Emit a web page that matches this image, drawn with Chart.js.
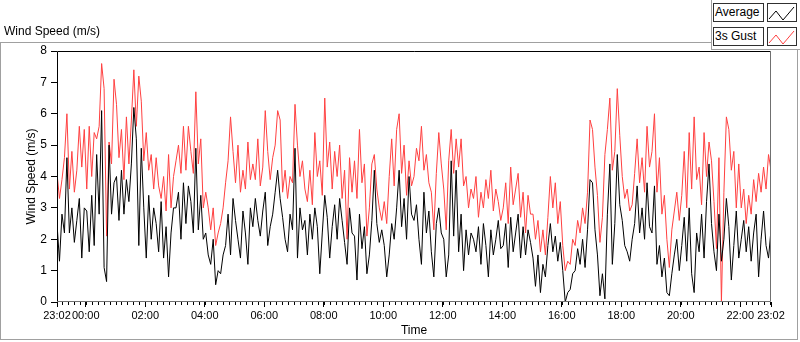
<!DOCTYPE html>
<html>
<head>
<meta charset="utf-8">
<script src="https://cdn.jsdelivr.net/npm/chart.js@4.4.1/dist/chart.umd.min.js"></script>
<style>
  body { margin: 0; background: #fff; font-family: "Liberation Sans", Arial, sans-serif; font-size: 12px; }
  #wrap { position: relative; width: 800px; height: 342px; overflow: hidden; }
  canvas { position: absolute; left: 0; top: 0; }
  .ln { position: absolute; background: #a0a0a0; }
  .title { position: absolute; left: 4px; top: 24px; color: #000; }
  .lgText { position: absolute; left: 713px; width: 48px; height: 17px; line-height: 17px; border: 1px solid #303030; background: #fff; padding-left: 1px; color: #000; }
  .lgIcon { position: absolute; left: 767px; width: 28px; height: 17px; border: 1px solid #303030; background: #fff; }
</style>
</head>
<body>
<div id="wrap">
  <canvas id="myChart" width="800" height="342"></canvas>
  <div class="title">Wind Speed (m/s)</div>
  <!-- frame lines -->
  <div class="ln" style="left:0;top:42px;width:712px;height:1px"></div>
  <div class="ln" style="left:0;top:42px;width:1px;height:298px"></div>
  <div class="ln" style="left:0;top:339px;width:798px;height:1px"></div>
  <div class="ln" style="left:797px;top:49px;width:1px;height:291px"></div>
  <div class="ln" style="left:711px;top:0;width:1px;height:50px"></div>
  <div class="ln" style="left:711px;top:49px;width:89px;height:1px"></div>
  <!-- legend -->
  <div class="lgText" style="top:3px">Average</div>
  <div class="lgIcon" style="top:3px"><svg width="28" height="17"><polyline points="1,15 8,7 15,16 26,3" fill="none" stroke="#000" stroke-width="1"/></svg></div>
  <div class="lgText" style="top:27px">3s Gust</div>
  <div class="lgIcon" style="top:27px"><svg width="28" height="17"><polyline points="1,15 8,7 15,16 26,3" fill="none" stroke="#ff4040" stroke-width="1"/></svg></div>
</div>
<script>
// 5 minute samples starting 23:02, one row per hour
const average = [
  2.5, 1.3, 2.8, 2.2, 4.6, 2.2, 3.0, 1.9, 2.6, 3.3, 1.4, 3.0,
  2.9, 1.6, 3.4, 1.8, 4.7, 2.8, 6.1, 1.1, 0.65, 5.0, 2.8, 3.8,
  4.0, 2.6, 4.2, 2.8, 3.9, 3.2, 4.4, 6.2, 5.2, 1.8, 4.9, 3.0,
  1.4, 3.4, 2.0, 3.0, 2.5, 1.6, 3.2, 1.4, 2.4, 0.8, 2.2, 3.0,
  3.0, 3.5, 2.0, 3.8, 2.5, 3.7, 3.2, 2.2, 4.9, 2.3, 3.4, 2.0,
  2.2, 1.5, 1.2, 2.0, 0.55, 1.0, 0.9, 1.5, 1.8, 2.8, 1.5, 3.3,
  2.6, 2.0, 1.4, 2.9, 2.2, 1.2, 3.0, 2.4, 3.3, 2.6, 2.1, 2.9,
  3.5, 1.8, 2.4, 2.8, 3.5, 4.2, 3.3, 2.7, 2.0, 1.6, 2.8, 2.3,
  4.9, 1.4, 3.0, 2.3, 2.6, 1.5, 2.8, 2.0, 3.0, 2.4, 0.9, 2.2,
  3.4, 2.7, 1.4, 2.4, 3.1, 2.0, 3.3, 2.6, 1.9, 1.2, 3.0, 2.2,
  2.1, 0.7, 2.8, 1.7, 2.4, 0.9, 1.5, 2.6, 4.2, 2.5, 1.9, 2.3,
  1.8, 0.8, 1.5, 2.5, 2.0, 3.0, 4.2, 2.4, 3.3, 2.0, 4.0, 2.8,
  2.6, 3.1, 2.0, 1.2, 3.5, 2.2, 2.9, 1.6, 0.8, 2.5, 3.0, 2.2,
  2.0, 0.8, 1.5, 4.5, 2.1, 4.2, 1.6, 2.8, 1.0, 2.3, 1.5, 2.2,
  2.0, 1.6, 2.4, 1.2, 2.5, 1.8, 0.8, 2.3, 1.5, 2.0, 2.6, 1.7,
  1.8, 2.5, 1.1, 2.7, 1.6, 2.2, 2.8, 1.4, 2.4, 1.5, 2.3, 1.9,
  1.4, 0.5, 1.5, 0.3, 1.2, 0.8, 1.8, 2.5, 1.6, 2.1, 1.3, 1.9,
  1.0, 0.0, 0.3, 0.4, 0.9, 1.0, 1.7, 1.2, 2.0, 1.1, 2.3, 3.9,
  3.8, 2.3, 1.5, 0.2, 0.9, 0.1, 2.8, 4.4, 1.2, 2.5, 4.7, 3.1,
  2.6, 1.8, 1.6, 1.3, 2.0, 2.5, 3.7, 2.2, 3.0, 2.0, 3.8, 2.4,
  2.2, 3.7, 1.2, 1.8, 0.8, 1.4, 0.3, 0.2, 0.9, 1.5, 2.0, 1.0,
  1.8, 2.7, 1.3, 3.0, 0.9, 0.3, 2.2, 1.6, 2.8, 1.4, 3.2, 4.4,
  2.5, 1.6, 1.0, 2.8, 1.3, 2.0, 3.3, 2.4, 0.7, 1.8, 2.9, 1.4,
  2.0, 2.6, 1.6, 2.4, 1.3, 2.2, 2.8, 0.8, 2.0, 2.9, 1.8, 1.4,
  2.3
];

const gust = [
  4.1, 3.3, 3.9, 4.6, 6.0, 3.6, 4.8, 3.5, 4.2, 5.6, 4.3, 5.5,
  3.6, 5.6, 4.0, 5.4, 5.2, 5.6, 7.6, 6.8, 2.1, 5.1, 4.4, 7.1,
  6.3, 4.6, 5.5, 3.9, 5.9, 4.4, 5.8, 7.4, 5.6, 7.2, 6.4, 4.5,
  5.4, 4.2, 4.7, 3.6, 4.6, 3.7, 3.3, 4.0, 2.9, 4.7, 3.0, 4.0,
  4.5, 5.0, 4.1, 5.6, 4.2, 5.6, 4.8, 4.1, 6.7, 4.4, 5.2, 3.0,
  3.5, 3.0, 2.3, 3.0, 1.8, 2.2, 2.5, 3.0, 3.8, 4.5, 5.9, 4.8,
  3.8, 5.0, 3.5, 4.2, 3.6, 5.1, 3.9, 4.4, 3.9, 5.2, 3.7, 4.3,
  6.1, 4.8, 3.9, 4.6, 5.0, 6.1, 5.8, 3.5, 4.2, 3.3, 4.0, 3.8,
  6.3, 5.0, 4.0, 4.5, 3.6, 3.2, 4.2, 3.1, 5.4, 4.0, 4.5, 3.4,
  6.5, 4.3, 5.1, 3.6, 4.8, 4.0, 5.0, 3.3, 4.2, 2.0, 4.6, 3.5,
  4.5, 3.3, 5.5, 3.8, 4.4, 2.1, 3.0, 4.4, 4.7, 3.6, 3.0, 2.6,
  3.2, 2.5, 4.0, 5.2, 3.7, 5.5, 6.0, 4.1, 5.0, 3.4, 4.5, 3.7,
  4.0, 4.9, 4.5, 5.6, 4.2, 4.7, 3.8, 3.5, 2.3, 4.1, 5.4, 4.4,
  3.6, 2.3, 4.5, 5.5, 4.1, 5.2, 4.3, 5.2, 3.7, 4.0, 3.0, 3.6,
  3.3, 4.0, 2.7, 3.5, 3.0, 3.9, 3.3, 4.2, 2.9, 3.6, 3.2, 2.6,
  3.0, 3.8, 2.5, 4.3, 3.1, 3.6, 4.1, 2.7, 3.5, 2.2, 3.4, 2.8,
  2.8, 2.0, 2.6, 1.6, 2.3, 1.5, 2.7, 4.0, 3.0, 3.8, 2.5, 3.2,
  1.8, 1.0, 1.3, 1.2, 2.0, 1.8, 2.6, 2.2, 3.0, 2.5, 3.5, 5.8,
  5.5, 4.3, 3.4, 1.9, 2.7, 4.7, 5.5, 6.5, 4.2, 4.8, 6.8, 5.3,
  4.0, 3.3, 3.6, 2.9, 3.1, 4.1, 5.2, 3.8, 4.6, 3.5, 5.6, 4.3,
  4.8, 6.0, 3.5, 4.6, 2.8, 3.4, 2.0, 1.1, 2.3, 2.9, 3.5, 2.6,
  3.4, 4.8, 3.0, 5.4, 3.6, 5.9, 3.9, 4.3, 3.1, 5.4, 4.0, 5.1,
  4.5, 3.2, 1.7, 4.6, 0.0, 3.5, 5.9, 5.5, 4.2, 4.8, 3.0, 4.4,
  3.0, 3.6, 2.5, 3.4, 2.8, 3.9, 3.2, 4.1, 3.5, 4.3, 3.6, 4.7,
  4.2
];

const sampleStep = 5; // minutes between samples
const tickMinutes = [0, 58, 178, 298, 418, 538, 658, 778, 898, 1018, 1138, 1258, 1378, 1440];
const tickLabels = ['23:02', '00:00', '02:00', '04:00', '06:00', '08:00', '10:00', '12:00', '14:00', '16:00', '18:00', '20:00', '22:00', '23:02'];

Chart.defaults.font.family = '"Liberation Sans", Arial, sans-serif';
Chart.defaults.font.size = 12;
Chart.defaults.color = '#000';

const toPoints = arr => arr.map((v, i) => ({ x: i * sampleStep, y: v }));

// plot frame + minor ticks like the LabVIEW chart
const frame = {
  id: 'frame',
  afterDraw(chart) {
    const { ctx, chartArea: a } = chart;
    const xs = chart.scales.x;
    ctx.save();
    ctx.lineWidth = 1;
    ctx.strokeStyle = '#000';
    ctx.beginPath();
    ctx.moveTo(a.left + 0.5, a.bottom);
    ctx.lineTo(a.left + 0.5, a.top + 0.5);
    ctx.lineTo(a.right, a.top + 0.5);
    ctx.stroke();
    ctx.strokeStyle = '#707070';
    ctx.beginPath();
    ctx.moveTo(a.right - 0.5, a.top);
    ctx.lineTo(a.right - 0.5, a.bottom - 0.5);
    ctx.lineTo(a.left, a.bottom - 0.5);
    ctx.stroke();
    ctx.strokeStyle = '#000';
    ctx.beginPath();
    for (let t = 10; t < 1440; t += 12) {
      const px = Math.round(xs.getPixelForValue(t)) + 0.5;
      ctx.moveTo(px, a.bottom);
      ctx.lineTo(px, a.bottom + 3);
    }
    ctx.stroke();
    ctx.restore();
  }
};

const ctx = document.getElementById('myChart');
new Chart(ctx, {
  type: 'line',
  data: {
    datasets: [
      { label: 'Average', data: toPoints(average), borderColor: '#000', borderWidth: 1, pointRadius: 0, tension: 0 },
      { label: '3s Gust', data: toPoints(gust), borderColor: '#ff4040', borderWidth: 1, pointRadius: 0, tension: 0 }
    ]
  },
  options: {
    responsive: false,
    animation: false,
    devicePixelRatio: 1,
    layout: { padding: { top: 51, right: 29, left: 0, bottom: 0 } },
    plugins: { legend: { display: false }, tooltip: { enabled: false } },
    scales: {
      x: {
        type: 'linear', min: 0, max: 1440,
        afterBuildTicks: s => { s.ticks = tickMinutes.map(v => ({ value: v })); },
        afterFit: s => { s.height = 40; },
        ticks: { callback: (v, i) => tickLabels[i], autoSkip: false, maxRotation: 0, padding: 2, font: { size: 11 } },
        grid: { drawOnChartArea: false, tickLength: 5, color: '#000' },
        border: { display: false },
        title: { display: true, text: 'Time', padding: { top: 0, bottom: 4 } }
      },
      y: {
        min: 0, max: 8,
        afterFit: s => { s.width = 57; },
        ticks: { stepSize: 1, padding: 4 },
        grid: { drawOnChartArea: false, tickLength: 6, color: '#000' },
        border: { display: false },
        title: { display: true, text: 'Wind Speed (m/s)', padding: { top: 24, bottom: 0 } }
      }
    }
  },
  plugins: [frame]
});
</script>
</body>
</html>
